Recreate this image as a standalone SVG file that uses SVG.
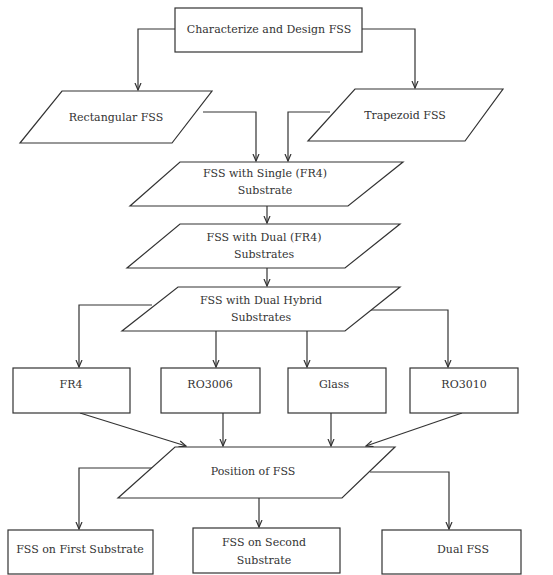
<svg xmlns="http://www.w3.org/2000/svg" width="553" height="575" viewBox="0 0 553 575">
<style>
.n{fill:#fff;stroke:#333;stroke-width:1.2}
.t{font-family:'DejaVu Serif',serif;font-size:11px;fill:#333;text-anchor:middle}
.c{fill:none;stroke:#333;stroke-width:1.2;marker-end:url(#a)}
</style>
<defs>
<marker id="a" markerWidth="8" markerHeight="8" refX="7" refY="4" orient="auto" markerUnits="userSpaceOnUse">
<path d="M0,1 L7,4 L0,7" fill="none" stroke="#333" stroke-width="1.2"/>
</marker>
</defs>
<rect width="553" height="575" fill="#fff"/>
<g id="connectors">
<path class="c" d="M175,29 H138 V90"/>
<path class="c" d="M362,29 H415 V88"/>
<path class="c" d="M203,112 H256 V161"/>
<path class="c" d="M330,112 H288 V161"/>
<path class="c" d="M267,206 V223"/>
<path class="c" d="M267,268 V286"/>
<path class="c" d="M152,305 H79 V367"/>
<path class="c" d="M368,310 H448 V367"/>
<path class="c" d="M216,331 V367"/>
<path class="c" d="M307,331 V367"/>
<path class="c" d="M80,413 L186,446"/>
<path class="c" d="M223,413 V446"/>
<path class="c" d="M331,413 V446"/>
<path class="c" d="M462,413 L366,446"/>
<path class="c" d="M153,468 H79 V529"/>
<path class="c" d="M259,498 V527"/>
<path class="c" d="M370,472 H449 V529"/>
</g>
<g id="n1"><rect class="n" x="175" y="8" width="187" height="44"/><text class="t" x="269" y="33">Characterize and Design FSS</text></g>
<g id="n2"><polygon class="n" points="62,91 212,91 172,143 20,143"/><text class="t" x="116" y="121">Rectangular FSS</text></g>
<g id="n3"><polygon class="n" points="355,89 503,89 465,141 308,141"/><text class="t" x="405" y="119">Trapezoid FSS</text></g>
<g id="n4"><polygon class="n" points="180,162 403,162 348,206 130,206"/><text class="t" x="265" y="177">FSS with Single (FR4)</text><text class="t" x="265" y="194">Substrate</text></g>
<g id="n5"><polygon class="n" points="180,224 400,224 345,268 127,268"/><text class="t" x="264" y="241">FSS with Dual (FR4)</text><text class="t" x="264" y="258">Substrates</text></g>
<g id="n6"><polygon class="n" points="178,287 400,287 345,331 122,331"/><text class="t" x="261" y="304">FSS with Dual Hybrid</text><text class="t" x="261" y="321">Substrates</text></g>
<g id="n7"><rect class="n" x="13" y="368" width="117" height="45"/><text class="t" x="71" y="388">FR4</text></g>
<g id="n8"><rect class="n" x="161" y="368" width="99" height="45"/><text class="t" x="210" y="388">RO3006</text></g>
<g id="n9"><rect class="n" x="288" y="368" width="98" height="45"/><text class="t" x="334" y="388">Glass</text></g>
<g id="n10"><rect class="n" x="410" y="368" width="108" height="45"/><text class="t" x="464" y="388">RO3010</text></g>
<g id="n11"><polygon class="n" points="175,447 395,447 342,498 118,498"/><text class="t" x="253" y="475">Position of FSS</text></g>
<g id="n12"><rect class="n" x="8" y="530" width="145" height="44"/><text class="t" x="80" y="553">FSS on First Substrate</text></g>
<g id="n13"><rect class="n" x="193" y="528" width="147" height="45"/><text class="t" x="264" y="546">FSS on Second</text><text class="t" x="264" y="564">Substrate</text></g>
<g id="n14"><rect class="n" x="382" y="530" width="139" height="44"/><text class="t" x="463" y="553">Dual FSS</text></g>
</svg>
